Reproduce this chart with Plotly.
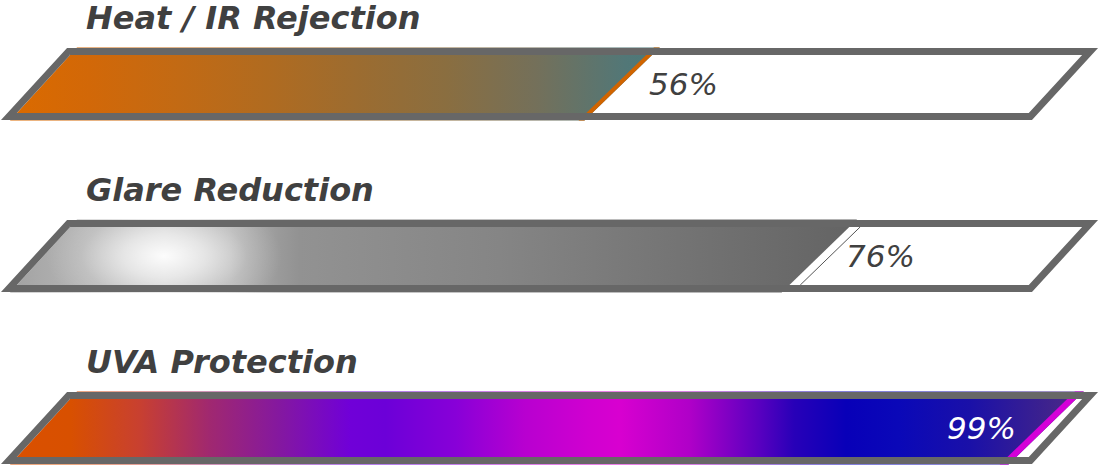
import plotly.graph_objects as go

# --- data ---
labels = ["Heat / IR Rejection", "Glare Reduction", "UVA Protection"]
values = [56, 76, 99]
value_text = ["56%", "76%", "99%"]

# gradient stops for each bar (fraction along the filled part, colour)
heat_stops = [0.0, 0.11, 0.254, 0.396, 0.538, 0.68, 0.824, 0.966, 1.0]
heat_colors = ["#DA6A00", "#D26808", "#C26A14", "#B06B20", "#9C6C30",
               "#8A6E40", "#74705A", "#527777", "#4E7878"]

glare_stops = [0.0, 0.071, 0.174, 0.252, 0.312, 0.337, 0.578, 0.819, 1.0]
glare_colors = ["#A4A4A4", "#B4B4B4", "#C6C6C6", "#B8B8B8", "#9A9A9A",
                "#929292", "#858585", "#727272", "#646464"]

uva_stops = [0.0, 0.048, 0.114, 0.181, 0.248, 0.315, 0.349, 0.416, 0.482,
             0.543, 0.572, 0.639, 0.705, 0.739, 0.789, 0.839, 0.907, 0.973, 1.0]
uva_colors = ["#DA5000", "#D85000", "#C84030", "#A02870", "#8418A0", "#7000D8",
              "#6C00D8", "#8800D8", "#B800D0", "#D000D0", "#D800D0", "#B000C8",
              "#5A00C0", "#2800B8", "#0800B8", "#0A08B8", "#1A10A8", "#3A2090",
              "#482888"]

bar_stops = [heat_stops, glare_stops, uva_stops]
bar_colors = [heat_colors, glare_colors, uva_colors]
edge_colors = ["#D06400", None, "#D400D8"]
text_colors = ["#404040", "#404040", "#FFFFFF"]

# --- geometry (x in percent, y in rows) ---
OUTER = 0.2093      # half height of the frame's outside
INNER = 0.169       # half height of the frame's inside
BLEED = 0.003       # fill shows a hair past the frame
SLANT = 16.0        # x shift per row unit of frame edges
FILL_SLANT = 18.0   # x shift per row unit of fill end
OUT_LEFT, OUT_RIGHT = -6.69, 97.87
IN_LEFT, IN_RIGHT = -5.73, 96.9
GRAD_START = -8.1
FRAME_COLOR = "#676767"
FONT = "DejaVu Sans"

fig = go.Figure()


def para(x_left, x_right, yc, half, slant):
    """corners of a slanted box, clockwise from top-left"""
    xs = [x_left + slant * half, x_right + slant * half,
          x_right - slant * half, x_left - slant * half]
    ys = [yc - half, yc - half, yc + half, yc + half]
    return xs, ys


for i, (label, v) in enumerate(zip(labels, values)):
    yc = i
    top, bot = yc - OUTER - BLEED, yc + OUTER + BLEED

    # end of the fill, passes through v at the top inside edge
    def end_x(y, shift=0.0):
        return v + shift + FILL_SLANT * ((yc - y) - INNER)

    def left_x(y):
        return IN_LEFT + SLANT * (yc - y)

    xs = [left_x(top), end_x(top), end_x(bot), left_x(bot)]
    ys = [top, top, bot, bot]
    edge_w = 0.9 if i == 2 else 0.6
    stop = v - edge_w if edge_colors[i] else v
    fig.add_trace(go.Scatter(
        x=xs + xs[:1], y=ys + ys[:1], mode="lines", fill="toself",
        line=dict(width=0), hoverinfo="skip",
        fillgradient=dict(
            type="horizontal", start=GRAD_START, stop=stop,
            colorscale=[[s, c] for s, c in zip(bar_stops[i], bar_colors[i])],
        ),
    ))

    if edge_colors[i]:
        ex = [end_x(top, -edge_w), end_x(top), end_x(bot), end_x(bot, -edge_w)]
        fig.add_trace(go.Scatter(
            x=ex + ex[:1], y=ys + ys[:1], mode="lines", fill="toself",
            fillcolor=edge_colors[i], line=dict(width=0), hoverinfo="skip",
        ))
    else:
        # glare highlight: white radial glow near the left end
        hx = [6.5 - 12, 6.5 + 12, 6.5 + 12, 6.5 - 12]
        hy = [yc - 0.36, yc - 0.36, yc + 0.36, yc + 0.36]
        fig.add_trace(go.Scatter(
            x=hx + hx[:1], y=hy + hy[:1], mode="lines", fill="toself",
            line=dict(width=0), hoverinfo="skip",
            fillgradient=dict(
                type="radial",
                colorscale=[[0, "rgba(255,255,255,0.95)"],
                            [0.35, "rgba(255,255,255,0.6)"],
                            [0.7, "rgba(255,255,255,0.15)"],
                            [1, "rgba(255,255,255,0)"]],
            ),
        ))
        # thin glare line just after the fill
        fig.add_trace(go.Scatter(
            x=[end_x(yc - INNER, 1.1), end_x(yc + INNER, 1.1)],
            y=[yc - INNER, yc + INNER], mode="lines",
            line=dict(width=1, color="#555555"), hoverinfo="skip",
        ))

    # frame: outer box, then the inner box backwards to cut the hole
    ox, oy = para(OUT_LEFT, OUT_RIGHT, yc, OUTER, SLANT)
    ix, iy = para(IN_LEFT, IN_RIGHT, yc, INNER, SLANT)
    rx = ox + ox[:1] + ix[:1] + ix[:0:-1] + ix[:1] + ox[:1]
    ry = oy + oy[:1] + iy[:1] + iy[:0:-1] + iy[:1] + oy[:1]
    fig.add_trace(go.Scatter(
        x=rx, y=ry, mode="lines", fill="toself", fillcolor=FRAME_COLOR,
        line=dict(width=0), hoverinfo="skip",
    ))

    # titles
    fig.add_annotation(
        x=-1.6, y=yc - 0.385, text=label, showarrow=False,
        xanchor="left", yanchor="middle",
        font=dict(family=FONT, size=32, weight=600, style="italic",
                  color="#404040"),
    )

    # value labels
    inside = v > 90
    fig.add_annotation(
        x=v - 5.9 if inside else v - 0.5, y=yc, text=value_text[i],
        showarrow=False, xanchor="right" if inside else "left", yanchor="middle",
        font=dict(family=FONT, size=31, weight=400, style="italic",
                  color=text_colors[i]),
    )

fig.update_layout(
    width=1101, height=465, autosize=False,
    margin=dict(l=0, r=0, t=0, b=0),
    showlegend=False,
    plot_bgcolor="white", paper_bgcolor="white",
    xaxis=dict(range=[-10.14, 101.52], visible=False, fixedrange=True),
    yaxis=dict(range=[2.215, -0.488], visible=False, fixedrange=True),
)

fig.write_html("out.html", config={"displayModeBar": False},
               post_script="document.body.style.margin = '0';")
